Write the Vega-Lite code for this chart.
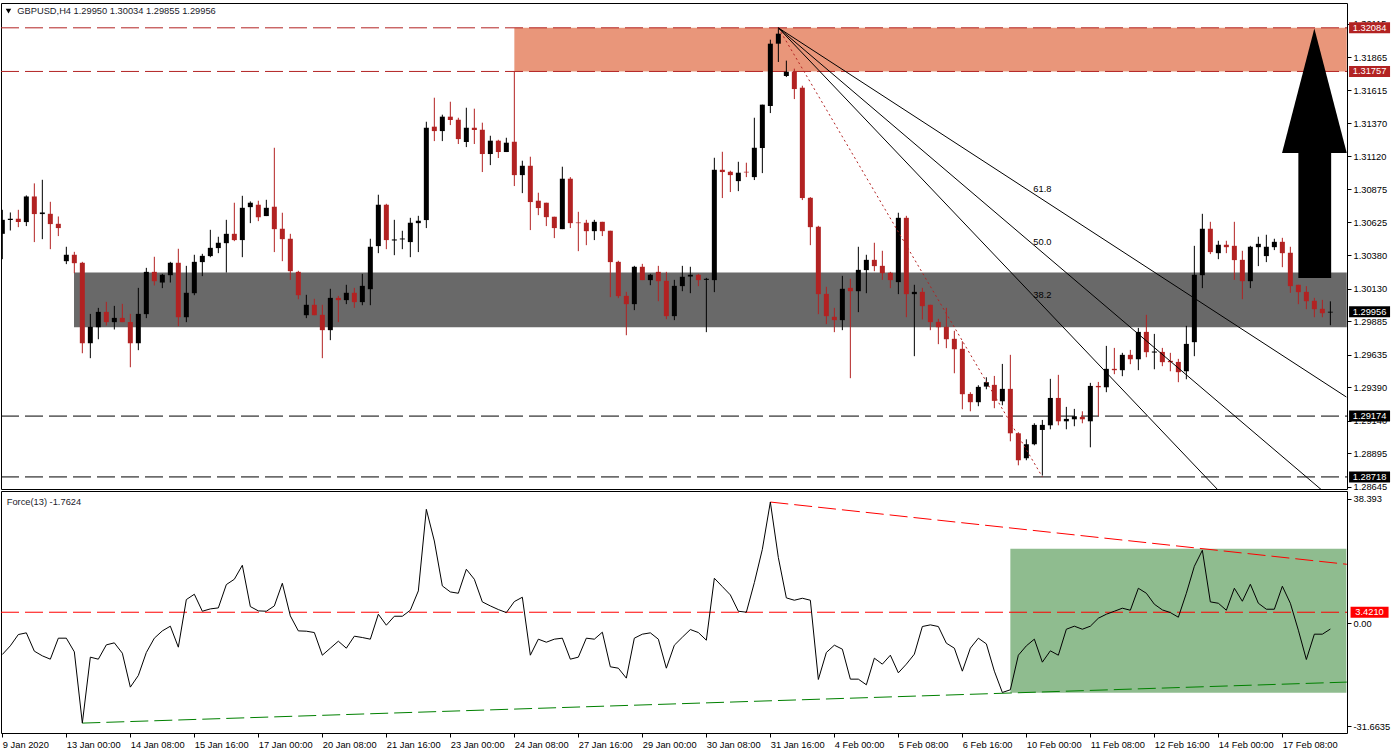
{
  "$schema": "https://vega.github.io/schema/vega-lite/v6.json",
  "background": "white",
  "padding": {"left": -1, "top": 2, "right": 0, "bottom": 0},
  "spacing": 2,
  "bounds": "flush",
  "config": {
    "view": {"stroke": "black", "strokeWidth": 1},
    "axis": {"labelFont": "Liberation Sans", "labelFontSize": 9.3, "labelColor": "black", "tickColor": "black", "tickSize": 4, "domain": false, "grid": false, "title": null},
    "text": {"font": "Liberation Sans", "fontSize": 9.3, "color": "black"}
  },
  "datasets": {
    "bars": [
      {"bar":0,"open":1.3054,"high":1.3072,"low":1.3035,"close":1.30645,"force":-9.6},
      {"bar":1,"open":1.30643,"high":1.307,"low":1.30565,"close":1.30653,"force":-6.93},
      {"bar":2,"open":1.30653,"high":1.3072,"low":1.3059,"close":1.30628,"force":-3.45},
      {"bar":3,"open":1.30628,"high":1.30828,"low":1.30598,"close":1.3082,"force":-2.93},
      {"bar":4,"open":1.3082,"high":1.30918,"low":1.30478,"close":1.30688,"force":-8.57},
      {"bar":5,"open":1.30688,"high":1.30945,"low":1.305,"close":1.307,"force":-10.01},
      {"bar":6,"open":1.3069,"high":1.3078,"low":1.30425,"close":1.30613,"force":-11.04},
      {"bar":7,"open":1.30615,"high":1.3067,"low":1.30523,"close":1.30583,"force":-4.57},
      {"bar":8,"open":1.30335,"high":1.30443,"low":1.30313,"close":1.30383,"force":-4.57},
      {"bar":9,"open":1.30383,"high":1.30405,"low":1.30245,"close":1.3032,"force":-8.78},
      {"bar":10,"open":1.30323,"high":1.3033,"low":1.29645,"close":1.2972,"force":-30.73},
      {"bar":11,"open":1.2972,"high":1.2994,"low":1.29608,"close":1.29843,"force":-10.42},
      {"bar":12,"open":1.2984,"high":1.29985,"low":1.2975,"close":1.29955,"force":-11.04},
      {"bar":13,"open":1.29955,"high":1.3003,"low":1.29853,"close":1.29878,"force":-6.63},
      {"bar":14,"open":1.29878,"high":1.3,"low":1.29823,"close":1.2991,"force":-6.01},
      {"bar":15,"open":1.2991,"high":1.30015,"low":1.29878,"close":1.29878,"force":-9.19},
      {"bar":16,"open":1.2988,"high":1.2994,"low":1.2954,"close":1.2972,"force":-19.65},
      {"bar":17,"open":1.2972,"high":1.30135,"low":1.29668,"close":1.2994,"force":-16.06},
      {"bar":18,"open":1.29938,"high":1.30285,"low":1.29908,"close":1.30255,"force":-8.98},
      {"bar":19,"open":1.30255,"high":1.30368,"low":1.30153,"close":1.30185,"force":-4.57},
      {"bar":20,"open":1.30175,"high":1.3024,"low":1.30133,"close":1.30233,"force":-2.32},
      {"bar":21,"open":1.3023,"high":1.3033,"low":1.30175,"close":1.30323,"force":-0.88},
      {"bar":22,"open":1.30323,"high":1.30428,"low":1.29848,"close":1.29915,"force":-7.34},
      {"bar":23,"open":1.29915,"high":1.303,"low":1.29878,"close":1.30098,"force":7.32},
      {"bar":24,"open":1.30095,"high":1.30383,"low":1.3008,"close":1.3033,"force":8.96},
      {"bar":25,"open":1.30328,"high":1.3039,"low":1.30223,"close":1.30375,"force":3.73},
      {"bar":26,"open":1.30373,"high":1.3057,"low":1.30365,"close":1.30435,"force":4.45},
      {"bar":27,"open":1.30433,"high":1.30518,"low":1.30395,"close":1.30473,"force":4.76},
      {"bar":28,"open":1.3047,"high":1.30645,"low":1.3025,"close":1.3054,"force":11.94},
      {"bar":29,"open":1.3054,"high":1.30773,"low":1.30485,"close":1.30493,"force":13.58},
      {"bar":30,"open":1.30493,"high":1.30825,"low":1.30365,"close":1.30735,"force":17.89},
      {"bar":31,"open":1.3074,"high":1.30783,"low":1.3062,"close":1.30773,"force":5.17},
      {"bar":32,"open":1.30758,"high":1.30788,"low":1.30635,"close":1.30665,"force":3.84},
      {"bar":33,"open":1.30673,"high":1.30795,"low":1.30673,"close":1.30735,"force":3.73},
      {"bar":34,"open":1.30743,"high":1.31185,"low":1.30403,"close":1.30575,"force":5.37},
      {"bar":35,"open":1.30578,"high":1.30698,"low":1.30335,"close":1.305,"force":12.35},
      {"bar":36,"open":1.30503,"high":1.3054,"low":1.30195,"close":1.3026,"force":2.3},
      {"bar":37,"open":1.30255,"high":1.30263,"low":1.3005,"close":1.3008,"force":-2.32},
      {"bar":38,"open":1.2993,"high":1.30083,"low":1.29908,"close":1.30008,"force":-2.42},
      {"bar":39,"open":1.30008,"high":1.30053,"low":1.2993,"close":1.2993,"force":-2.83},
      {"bar":40,"open":1.29933,"high":1.30008,"low":1.29608,"close":1.29818,"force":-9.81},
      {"bar":41,"open":1.29818,"high":1.30128,"low":1.29743,"close":1.3006,"force":-7.65},
      {"bar":42,"open":1.3006,"high":1.30075,"low":1.29878,"close":1.30043,"force":-5.5},
      {"bar":43,"open":1.30043,"high":1.30158,"low":1.30013,"close":1.30098,"force":-7.65},
      {"bar":44,"open":1.30098,"high":1.30135,"low":1.29985,"close":1.30028,"force":-3.96},
      {"bar":45,"open":1.30028,"high":1.3024,"low":1.30005,"close":1.3015,"force":-4.37},
      {"bar":46,"open":1.30125,"high":1.30503,"low":1.30005,"close":1.30443,"force":-4.88},
      {"bar":47,"open":1.30448,"high":1.30833,"low":1.30395,"close":1.30758,"force":2.81},
      {"bar":48,"open":1.30758,"high":1.30765,"low":1.30425,"close":1.30493,"force":-0.57},
      {"bar":49,"open":1.3049,"high":1.30645,"low":1.3038,"close":1.30498,"force":2.19},
      {"bar":50,"open":1.30498,"high":1.30563,"low":1.30425,"close":1.30505,"force":2.19},
      {"bar":51,"open":1.30478,"high":1.3066,"low":1.30365,"close":1.30623,"force":4.04},
      {"bar":52,"open":1.3062,"high":1.30675,"low":1.30403,"close":1.30638,"force":9.99},
      {"bar":53,"open":1.30643,"high":1.3138,"low":1.30583,"close":1.31335,"force":35.12},
      {"bar":54,"open":1.31343,"high":1.3156,"low":1.31235,"close":1.3131,"force":25.37},
      {"bar":55,"open":1.3131,"high":1.31433,"low":1.31235,"close":1.31418,"force":11.53},
      {"bar":56,"open":1.31418,"high":1.3153,"low":1.31355,"close":1.31393,"force":9.68},
      {"bar":57,"open":1.31395,"high":1.3141,"low":1.31213,"close":1.3125,"force":9.27},
      {"bar":58,"open":1.31228,"high":1.31485,"low":1.3119,"close":1.31335,"force":16.66},
      {"bar":59,"open":1.31335,"high":1.31478,"low":1.31213,"close":1.31318,"force":13.58},
      {"bar":60,"open":1.3132,"high":1.31373,"low":1.31003,"close":1.31138,"force":6.61},
      {"bar":61,"open":1.31138,"high":1.31275,"low":1.31055,"close":1.31238,"force":5.37},
      {"bar":62,"open":1.31238,"high":1.31245,"low":1.31108,"close":1.31153,"force":4.25},
      {"bar":63,"open":1.31153,"high":1.3126,"low":1.31153,"close":1.31223,"force":3.32},
      {"bar":64,"open":1.3123,"high":1.31755,"low":1.30898,"close":1.3098,"force":6.71},
      {"bar":65,"open":1.3098,"high":1.31088,"low":1.30845,"close":1.3105,"force":8.04},
      {"bar":66,"open":1.3105,"high":1.31118,"low":1.30568,"close":1.30778,"force":-9.81},
      {"bar":67,"open":1.30788,"high":1.30848,"low":1.3068,"close":1.30733,"force":-4.88},
      {"bar":68,"open":1.30773,"high":1.30773,"low":1.30598,"close":1.30665,"force":-5.81},
      {"bar":69,"open":1.30668,"high":1.30668,"low":1.30508,"close":1.30583,"force":-4.88},
      {"bar":70,"open":1.30575,"high":1.31043,"low":1.30575,"close":1.30953,"force":-4.57},
      {"bar":71,"open":1.30953,"high":1.30965,"low":1.30583,"close":1.3062,"force":-11.04},
      {"bar":72,"open":1.30625,"high":1.30705,"low":1.3041,"close":1.3062,"force":-10.42},
      {"bar":73,"open":1.30623,"high":1.30645,"low":1.30455,"close":1.3056,"force":-4.57},
      {"bar":74,"open":1.3056,"high":1.30645,"low":1.30493,"close":1.3063,"force":-4.88},
      {"bar":75,"open":1.3063,"high":1.3063,"low":1.30523,"close":1.3056,"force":-2.73},
      {"bar":76,"open":1.30563,"high":1.30563,"low":1.30065,"close":1.30328,"force":-13.39},
      {"bar":77,"open":1.3033,"high":1.30338,"low":1.30058,"close":1.30073,"force":-13.81},
      {"bar":78,"open":1.30075,"high":1.30105,"low":1.2978,"close":1.30013,"force":-16.88},
      {"bar":79,"open":1.30013,"high":1.303,"low":1.29968,"close":1.30293,"force":-4.57},
      {"bar":80,"open":1.30293,"high":1.30315,"low":1.30193,"close":1.30193,"force":-3.34},
      {"bar":81,"open":1.30193,"high":1.3024,"low":1.30155,"close":1.30233,"force":-2.93},
      {"bar":82,"open":1.30255,"high":1.303,"low":1.30035,"close":1.30185,"force":-4.88},
      {"bar":83,"open":1.30188,"high":1.30255,"low":1.299,"close":1.29923,"force":-13.81},
      {"bar":84,"open":1.29923,"high":1.30195,"low":1.29893,"close":1.3015,"force":-6.73},
      {"bar":85,"open":1.30148,"high":1.303,"low":1.3011,"close":1.30218,"force":-4.27},
      {"bar":86,"open":1.3022,"high":1.30293,"low":1.30095,"close":1.30233,"force":-1.91},
      {"bar":87,"open":1.30233,"high":1.3024,"low":1.30148,"close":1.30193,"force":-2.83},
      {"bar":88,"open":1.30195,"high":1.3021,"low":1.29803,"close":1.30203,"force":-5.19},
      {"bar":89,"open":1.30193,"high":1.3111,"low":1.30103,"close":1.3102,"force":13.89},
      {"bar":90,"open":1.3102,"high":1.31155,"low":1.30808,"close":1.31003,"force":11.32},
      {"bar":91,"open":1.31005,"high":1.31013,"low":1.30853,"close":1.3098,"force":8.76},
      {"bar":92,"open":1.30935,"high":1.3108,"low":1.3086,"close":1.30998,"force":3.73},
      {"bar":93,"open":1.31005,"high":1.31073,"low":1.30965,"close":1.31,"force":3.43},
      {"bar":94,"open":1.30965,"high":1.3141,"low":1.30943,"close":1.31185,"force":12.55},
      {"bar":95,"open":1.31183,"high":1.31508,"low":1.30995,"close":1.31508,"force":22.81},
      {"bar":96,"open":1.31498,"high":1.31995,"low":1.31445,"close":1.31965,"force":37.37},
      {"bar":97,"open":1.31965,"high":1.3208,"low":1.31828,"close":1.3204,"force":20.25},
      {"bar":98,"open":1.31723,"high":1.31838,"low":1.31715,"close":1.31755,"force":7.84},
      {"bar":99,"open":1.31755,"high":1.31778,"low":1.3155,"close":1.31625,"force":7.12},
      {"bar":100,"open":1.31635,"high":1.3165,"low":1.30793,"close":1.30808,"force":7.73},
      {"bar":101,"open":1.3081,"high":1.30815,"low":1.30455,"close":1.3059,"force":7.12},
      {"bar":102,"open":1.30593,"high":1.306,"low":1.29938,"close":1.30088,"force":-17.29},
      {"bar":103,"open":1.3009,"high":1.30143,"low":1.29863,"close":1.29923,"force":-8.98},
      {"bar":104,"open":1.29918,"high":1.29985,"low":1.29803,"close":1.29893,"force":-6.73},
      {"bar":105,"open":1.29893,"high":1.30225,"low":1.29818,"close":1.30128,"force":-7.96},
      {"bar":106,"open":1.30135,"high":1.30203,"low":1.29458,"close":1.3011,"force":-17.19},
      {"bar":107,"open":1.3011,"high":1.30443,"low":1.29953,"close":1.3027,"force":-17.19},
      {"bar":108,"open":1.30268,"high":1.30383,"low":1.30095,"close":1.30345,"force":-18.93},
      {"bar":109,"open":1.30345,"high":1.30473,"low":1.3026,"close":1.30298,"force":-10.73},
      {"bar":110,"open":1.303,"high":1.30413,"low":1.30195,"close":1.30245,"force":-12.57},
      {"bar":111,"open":1.30248,"high":1.30255,"low":1.30133,"close":1.30193,"force":-9.81},
      {"bar":112,"open":1.30178,"high":1.30698,"low":1.30088,"close":1.3066,"force":-15.24},
      {"bar":113,"open":1.3066,"high":1.30675,"low":1.29915,"close":1.30088,"force":-12.57},
      {"bar":114,"open":1.30088,"high":1.30158,"low":1.29623,"close":1.30105,"force":-9.5},
      {"bar":115,"open":1.30105,"high":1.30135,"low":1.29898,"close":1.29998,"force":-0.98},
      {"bar":116,"open":1.30008,"high":1.30008,"low":1.29818,"close":1.29878,"force":-0.47},
      {"bar":117,"open":1.2988,"high":1.29903,"low":1.29713,"close":1.2984,"force":-0.98},
      {"bar":118,"open":1.29843,"high":1.29985,"low":1.29683,"close":1.2975,"force":-6.11},
      {"bar":119,"open":1.29753,"high":1.29813,"low":1.29495,"close":1.29675,"force":-7.65},
      {"bar":120,"open":1.29678,"high":1.29735,"low":1.29225,"close":1.29338,"force":-14.73},
      {"bar":121,"open":1.2934,"high":1.29353,"low":1.2921,"close":1.29278,"force":-7.65},
      {"bar":122,"open":1.29278,"high":1.29405,"low":1.29248,"close":1.29393,"force":-4.57},
      {"bar":123,"open":1.29395,"high":1.29465,"low":1.29375,"close":1.29428,"force":-6.32},
      {"bar":124,"open":1.29408,"high":1.29475,"low":1.29233,"close":1.29288,"force":-14.73},
      {"bar":125,"open":1.29285,"high":1.29565,"low":1.29255,"close":1.29378,"force":-21.29},
      {"bar":126,"open":1.29378,"high":1.29633,"low":1.28985,"close":1.29045,"force":-20.47},
      {"bar":127,"open":1.29045,"high":1.29053,"low":1.28805,"close":1.28843,"force":-9.81},
      {"bar":128,"open":1.28858,"high":1.29,"low":1.28843,"close":1.28963,"force":-6.93},
      {"bar":129,"open":1.28963,"high":1.2912,"low":1.28955,"close":1.29108,"force":-4.88},
      {"bar":130,"open":1.2907,"high":1.29145,"low":1.28728,"close":1.29108,"force":-11.96},
      {"bar":131,"open":1.29105,"high":1.29453,"low":1.29075,"close":1.2931,"force":-8.47},
      {"bar":132,"open":1.2931,"high":1.29483,"low":1.29105,"close":1.29135,"force":-9.81},
      {"bar":133,"open":1.29135,"high":1.29243,"low":1.29075,"close":1.29153,"force":-1.81},
      {"bar":134,"open":1.2915,"high":1.29228,"low":1.29098,"close":1.29173,"force":-0.88},
      {"bar":135,"open":1.29168,"high":1.2921,"low":1.2912,"close":1.2915,"force":-1.81},
      {"bar":136,"open":1.29135,"high":1.29423,"low":1.2894,"close":1.294,"force":-0.88},
      {"bar":137,"open":1.294,"high":1.2943,"low":1.29173,"close":1.2939,"force":1.58},
      {"bar":138,"open":1.2939,"high":1.297,"low":1.29353,"close":1.29528,"force":2.81},
      {"bar":139,"open":1.29528,"high":1.29685,"low":1.29488,"close":1.29518,"force":3.73},
      {"bar":140,"open":1.29518,"high":1.29648,"low":1.29473,"close":1.29633,"force":4.66},
      {"bar":141,"open":1.29633,"high":1.2967,"low":1.29563,"close":1.296,"force":4.04},
      {"bar":142,"open":1.296,"high":1.29835,"low":1.29518,"close":1.29805,"force":10.81},
      {"bar":143,"open":1.29805,"high":1.29933,"low":1.29615,"close":1.29653,"force":9.27},
      {"bar":144,"open":1.2965,"high":1.2979,"low":1.29525,"close":1.29658,"force":5.89},
      {"bar":145,"open":1.29655,"high":1.29685,"low":1.29548,"close":1.29578,"force":4.14},
      {"bar":146,"open":1.29588,"high":1.29648,"low":1.2951,"close":1.29578,"force":3.32},
      {"bar":147,"open":1.2958,"high":1.29603,"low":1.29428,"close":1.29503,"force":1.89},
      {"bar":148,"open":1.2951,"high":1.2985,"low":1.2945,"close":1.29715,"force":9.27},
      {"bar":149,"open":1.29728,"high":1.3045,"low":1.29623,"close":1.30233,"force":17.58},
      {"bar":150,"open":1.3023,"high":1.3069,"low":1.30133,"close":1.30578,"force":22.5},
      {"bar":151,"open":1.30578,"high":1.3063,"low":1.30388,"close":1.30403,"force":6.61},
      {"bar":152,"open":1.30395,"high":1.30488,"low":1.3035,"close":1.30458,"force":6.19},
      {"bar":153,"open":1.30458,"high":1.30488,"low":1.30395,"close":1.3044,"force":4.04},
      {"bar":154,"open":1.3045,"high":1.3063,"low":1.30195,"close":1.30343,"force":10.81},
      {"bar":155,"open":1.30345,"high":1.30413,"low":1.3005,"close":1.30185,"force":6.81},
      {"bar":156,"open":1.30185,"high":1.3045,"low":1.30133,"close":1.30443,"force":12.04},
      {"bar":157,"open":1.3044,"high":1.30518,"low":1.30298,"close":1.30465,"force":6.19},
      {"bar":158,"open":1.30373,"high":1.30533,"low":1.30328,"close":1.30443,"force":4.35},
      {"bar":159,"open":1.3044,"high":1.30503,"low":1.30418,"close":1.3048,"force":4.35},
      {"bar":160,"open":1.3048,"high":1.3051,"low":1.3029,"close":1.30395,"force":11.43},
      {"bar":161,"open":1.30398,"high":1.30443,"low":1.30098,"close":1.30148,"force":6.19},
      {"bar":162,"open":1.30158,"high":1.30158,"low":1.30013,"close":1.30103,"force":-2.11},
      {"bar":163,"open":1.30105,"high":1.30148,"low":1.29975,"close":1.30035,"force":-11.14},
      {"bar":164,"open":1.30038,"high":1.3006,"low":1.29915,"close":1.29975,"force":-3.34},
      {"bar":165,"open":1.29978,"high":1.30045,"low":1.29915,"close":1.29945,"force":-3.34},
      {"bar":166,"open":1.2995,"high":1.30034,"low":1.29855,"close":1.29956,"force":-1.76}
    ]
  },
  "vconcat": [
    {
      "width": 1346,
      "height": 486,
      "encoding": {
        "x": {"field": "bar", "type": "quantitative", "scale": {"domain": [-0.166, 168.08], "nice": false, "zero": false, "padding": 0}, "axis": null},
        "y": {
          "field": "price",
          "type": "quantitative",
          "scale": {"domain": [1.286275, 1.3227], "nice": false, "zero": false},
          "axis": {"orient": "right", "format": ".5f", "labelAlign": "left", "labelPadding": 2, "values": [1.32115, 1.31865, 1.31615, 1.3137, 1.3112, 1.30875, 1.30625, 1.3038, 1.3013, 1.29885, 1.29635, 1.2939, 1.2914, 1.28895, 1.28645]}
        }
      },
      "layer": [
        {
          "data": {"values": [{"bar": 64, "bar2": 168.05, "price": 1.32084, "price2": 1.31757}]},
          "mark": {"type": "rect", "color": "#E9967A"},
          "encoding": {"x2": {"field": "bar2"}, "y2": {"field": "price2"}}
        },
        {
          "data": {"values": [{"bar": 8.96, "bar2": 168.05, "price": 1.3025, "price2": 1.2984}]},
          "mark": {"type": "rect", "color": "#696969"},
          "encoding": {"x2": {"field": "bar2"}, "y2": {"field": "price2"}}
        },
        {
          "data": {"values": [{"price": 1.32084}, {"price": 1.31757}]},
          "mark": {"type": "rule", "color": "#B22222", "strokeDash": [18, 6], "strokeWidth": 1},
          "encoding": {"x": {"value": 0}, "x2": {"value": 1346}}
        },
        {
          "data": {"values": [{"price": 1.29174}, {"price": 1.28718}]},
          "mark": {"type": "rule", "color": "black", "strokeDash": [18, 6], "strokeWidth": 1},
          "encoding": {"x": {"value": 0}, "x2": {"value": 1346}}
        },
        {
          "data": {"name": "bars"},
          "mark": {"type": "rule", "strokeWidth": 1, "clip": true},
          "encoding": {
            "y": {"field": "low", "type": "quantitative"},
            "y2": {"field": "high"},
            "color": {"condition": {"test": "datum.close >= datum.open", "value": "black"}, "value": "#B22222"}
          }
        },
        {
          "data": {"name": "bars"},
          "mark": {"type": "bar", "size": 5, "clip": true},
          "encoding": {
            "y": {"field": "open", "type": "quantitative"},
            "y2": {"field": "close"},
            "color": {"condition": {"test": "datum.close >= datum.open", "value": "black"}, "value": "#B22222"}
          }
        },
        {
          "data": {"values": [{"bar": 97, "price": 1.32084}, {"bar": 130, "price": 1.28718}]},
          "mark": {"type": "line", "color": "#B22222", "strokeDash": [2, 3], "strokeWidth": 1}
        },
        {
          "data": {"values": [
            {"level": "38.2", "bar": 97, "price": 1.32084}, {"level": "38.2", "bar": 168, "price": 1.27609},
            {"level": "50.0", "bar": 97, "price": 1.32084}, {"level": "50.0", "bar": 168, "price": 1.28463},
            {"level": "61.8", "bar": 97, "price": 1.32084}, {"level": "61.8", "bar": 168, "price": 1.29317}
          ]},
          "mark": {"type": "line", "color": "black", "strokeWidth": 1, "clip": true},
          "encoding": {"detail": {"field": "level"}}
        },
        {
          "data": {"values": [
            {"level": "61.8", "bar": 130, "price": 1.30875},
            {"level": "50.0", "bar": 130, "price": 1.3048},
            {"level": "38.2", "bar": 130, "price": 1.30083}
          ]},
          "mark": {"type": "text", "align": "center", "baseline": "middle"},
          "encoding": {"text": {"field": "level"}}
        },
        {
          "data": {"values": [{"bar": 162, "bar2": 166.1, "price": 1.31145, "price2": 1.30208}]},
          "mark": {"type": "rect", "color": "black"},
          "encoding": {"x2": {"field": "bar2"}, "y2": {"field": "price2"}}
        },
        {
          "data": {"values": [
            {"bar": 159.96, "price": 1.31145, "base": 1.31145},
            {"bar": 164, "price": 1.32078, "base": 1.31145},
            {"bar": 168.05, "price": 1.31145, "base": 1.31145}
          ]},
          "mark": {"type": "area", "color": "black", "orient": "vertical"},
          "encoding": {"y2": {"field": "base"}}
        },
        {
          "data": {"values": [{"bar": 0.77, "price": 1.3221}]},
          "mark": {"type": "point", "shape": "triangle-down", "filled": true, "color": "black", "size": 30, "opacity": 1}
        },
        {
          "data": {"values": [{"bar": 1.87, "price": 1.3221, "label": "GBPUSD,H4  1.29950 1.30034 1.29855 1.29956"}]},
          "mark": {"type": "text", "align": "left", "baseline": "middle", "color": "#1a1a2a"},
          "encoding": {"text": {"field": "label"}}
        },
        {
          "data": {"values": [{"bar": 170.9, "price": 1.32084}, {"bar": 170.9, "price": 1.31757}]},
          "mark": {"type": "tick", "color": "#B22222", "size": 41, "thickness": 11, "orient": "horizontal", "opacity": 1}
        },
        {
          "data": {"values": [{"bar": 170.9, "price": 1.29956}, {"bar": 170.9, "price": 1.29174}, {"bar": 170.9, "price": 1.28718}]},
          "mark": {"type": "tick", "color": "black", "size": 41, "thickness": 11, "orient": "horizontal", "opacity": 1}
        },
        {
          "data": {"values": [
            {"bar": 170.9, "price": 1.32084, "label": "1.32084"},
            {"bar": 170.9, "price": 1.31757, "label": "1.31757"},
            {"bar": 170.9, "price": 1.29956, "label": "1.29956"},
            {"bar": 170.9, "price": 1.29174, "label": "1.29174"},
            {"bar": 170.9, "price": 1.28718, "label": "1.28718"}
          ]},
          "mark": {"type": "text", "color": "white", "align": "center", "baseline": "middle"},
          "encoding": {"text": {"field": "label"}}
        }
      ]
    },
    {
      "width": 1346,
      "height": 242,
      "encoding": {
        "x": {
          "field": "bar",
          "type": "quantitative",
          "scale": {"domain": [-0.166, 168.08], "nice": false, "zero": false},
          "axis": {
            "orient": "bottom",
            "values": [0, 8, 16, 24, 32, 40, 48, 56, 64, 72, 80, 88, 96, 104, 112, 120, 128, 136, 144, 152, 160],
            "labelAlign": "left",
            "labelPadding": 3,
            "labelOverlap": false,
            "labelFlush": false,
            "labelBound": false,
            "labelExpr": "['9 Jan 2020','13 Jan 00:00','14 Jan 08:00','15 Jan 16:00','17 Jan 00:00','20 Jan 08:00','21 Jan 16:00','23 Jan 00:00','24 Jan 08:00','27 Jan 16:00','29 Jan 00:00','30 Jan 08:00','31 Jan 16:00','4 Feb 00:00','5 Feb 08:00','6 Feb 16:00','10 Feb 00:00','11 Feb 08:00','12 Feb 16:00','14 Feb 00:00','17 Feb 08:00'][datum.value / 8]"
          }
        },
        "y": {
          "field": "force",
          "type": "quantitative",
          "scale": {"domain": [-33.78, 40.77], "nice": false, "zero": false},
          "axis": {"orient": "right", "labelAlign": "left", "labelPadding": 2, "values": [38.393, 0, -31.6635], "labelExpr": "datum.value === 0 ? '0.00' : datum.value"}
        }
      },
      "layer": [
        {
          "data": {"values": [{"bar": 126, "bar2": 168, "force": 23, "force2": -21.4}]},
          "mark": {"type": "rect", "color": "#8FBC8F"},
          "encoding": {"x2": {"field": "bar2"}, "y2": {"field": "force2"}}
        },
        {
          "data": {"values": [{"force": 3.421}]},
          "mark": {"type": "rule", "color": "#FF0000", "strokeDash": [18, 6], "strokeWidth": 1},
          "encoding": {"x": {"value": 0}, "x2": {"value": 1346}}
        },
        {
          "data": {"values": [{"bar": 96, "force": 37.37}, {"bar": 168.05, "force": 18.2}]},
          "mark": {"type": "line", "color": "#FF0000", "strokeDash": [18, 6], "strokeWidth": 1}
        },
        {
          "data": {"values": [{"bar": 10, "force": -30.73}, {"bar": 168.05, "force": -18.1}]},
          "mark": {"type": "line", "color": "#008000", "strokeDash": [18, 6], "strokeWidth": 1}
        },
        {
          "data": {"name": "bars"},
          "mark": {"type": "line", "color": "black", "strokeWidth": 1}
        },
        {
          "data": {"values": [{"bar": 0.55, "force": 37.3, "label": "Force(13) -1.7624"}]},
          "mark": {"type": "text", "align": "left", "baseline": "middle", "color": "#1a1a2a"},
          "encoding": {"text": {"field": "label"}}
        },
        {
          "data": {"values": [{"bar": 170.9, "force": 3.421}]},
          "mark": {"type": "tick", "color": "#FF0000", "size": 38, "thickness": 11, "orient": "horizontal", "opacity": 1}
        },
        {
          "data": {"values": [{"bar": 170.9, "force": 3.421, "label": "3.4210"}]},
          "mark": {"type": "text", "color": "white", "align": "center", "baseline": "middle"},
          "encoding": {"text": {"field": "label"}}
        }
      ]
    }
  ]
}
